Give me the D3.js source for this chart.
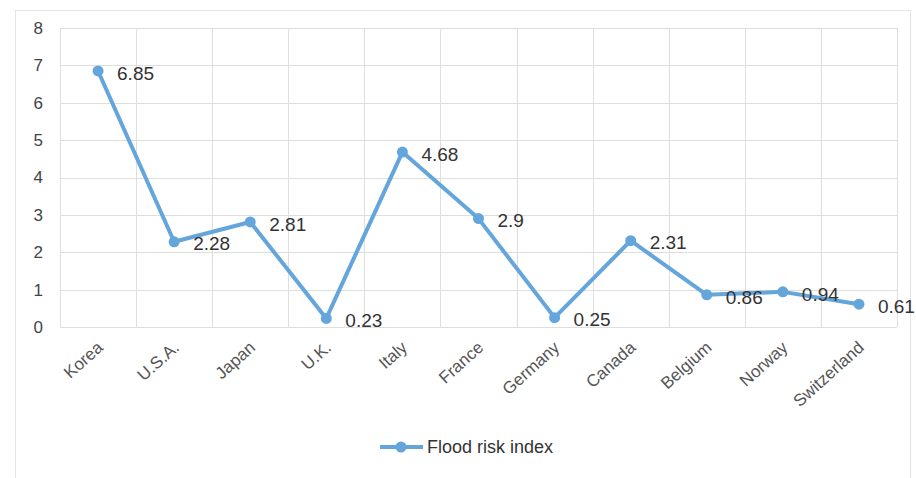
<!DOCTYPE html>
<html>
<head>
<meta charset="utf-8">
<script src="https://cdn.jsdelivr.net/npm/d3@7"></script>
<style>
  body { margin: 0; background: #fff; }
  text { font-family: "Liberation Sans", Arial, sans-serif; }
</style>
</head>
<body>
<div id="chart"></div>
<script>
// Data
const countries = ["Korea", "U.S.A.", "Japan", "U.K.", "Italy", "France", "Germany", "Canada", "Belgium", "Norway", "Switzerland"];
const floodRisk = [6.85, 2.28, 2.81, 0.23, 4.68, 2.9, 0.25, 2.31, 0.86, 0.94, 0.61];
const yTicks = [0, 1, 2, 3, 4, 5, 6, 7, 8];
const seriesName = "Flood risk index";

const W = 916, H = 478;
const margin = {top: 28, right: 19, bottom: 151, left: 60};
const width = W - margin.left - margin.right;
const height = H - margin.top - margin.bottom;
const blue = "#64a5dc";

const svg = d3.select("#chart")
    .append("svg")
    .attr("width", W)
    .attr("height", H);

// outer frame
svg.append("rect")
    .attr("x", 15.5).attr("y", 10.5)
    .attr("width", 895).attr("height", 475)
    .attr("fill", "none")
    .attr("stroke", "#e4e4e4");

const g = svg.append("g")
    .attr("transform", `translate(${margin.left},${margin.top})`);

const x = d3.scaleBand()
    .domain(countries)
    .range([0, width]);

const y = d3.scaleLinear()
    .domain([0, 8])
    .range([height, 0]);

// horizontal grid
g.selectAll(".hgrid")
    .data(yTicks)
    .join("line")
    .attr("x1", 0).attr("x2", width)
    .attr("y1", d => Math.round(y(d)) + 0.5)
    .attr("y2", d => Math.round(y(d)) + 0.5)
    .attr("stroke", "#dedede");

// vertical grid at band edges
const edges = countries.map(c => x(c)).concat([width]);
g.selectAll(".vgrid")
    .data(edges)
    .join("line")
    .attr("x1", d => Math.round(d) + 0.5).attr("x2", d => Math.round(d) + 0.5)
    .attr("y1", 0).attr("y2", height)
    .attr("stroke", "#dedede");

// Y axis labels
g.selectAll(".ylab")
    .data(yTicks)
    .join("text")
    .attr("x", -17)
    .attr("y", d => y(d))
    .attr("dy", "0.35em")
    .attr("text-anchor", "end")
    .attr("font-size", 17)
    .attr("fill", "#444")
    .text(d => d);

// X axis labels (rotated)
g.selectAll(".xlab")
    .data(countries)
    .join("text")
    .attr("text-anchor", "end")
    .attr("font-size", 17)
    .attr("fill", "#555")
    .attr("transform", d => `translate(${x(d) + x.bandwidth() / 2 + 6},${height + 22}) rotate(-42)`)
    .text(d => d);

// line
const line = d3.line()
    .x((d, i) => x(countries[i]) + x.bandwidth() / 2)
    .y(d => y(d));

g.append("path")
    .datum(floodRisk)
    .attr("fill", "none")
    .attr("stroke", blue)
    .attr("stroke-width", 4)
    .attr("stroke-linejoin", "round")
    .attr("d", line);

g.selectAll(".pt")
    .data(floodRisk)
    .join("circle")
    .attr("cx", (d, i) => x(countries[i]) + x.bandwidth() / 2)
    .attr("cy", d => y(d))
    .attr("r", 5.5)
    .attr("fill", blue);

// value labels
g.selectAll(".val")
    .data(floodRisk)
    .join("text")
    .attr("x", (d, i) => x(countries[i]) + x.bandwidth() / 2 + 19)
    .attr("y", d => y(d) + 2)
    .attr("dy", "0.35em")
    .attr("font-size", 19)
    .attr("fill", "#333")
    .text(d => d);

// legend
const lg = svg.append("g").attr("transform", "translate(380,447)");
lg.append("line")
    .attr("x1", 0).attr("x2", 43)
    .attr("stroke", blue).attr("stroke-width", 4);
lg.append("circle")
    .attr("cx", 21).attr("r", 5.5).attr("fill", blue);
lg.append("text")
    .attr("x", 47).attr("dy", "0.35em")
    .attr("font-size", 18)
    .attr("fill", "#333")
    .text(seriesName);
</script>
</body>
</html>
